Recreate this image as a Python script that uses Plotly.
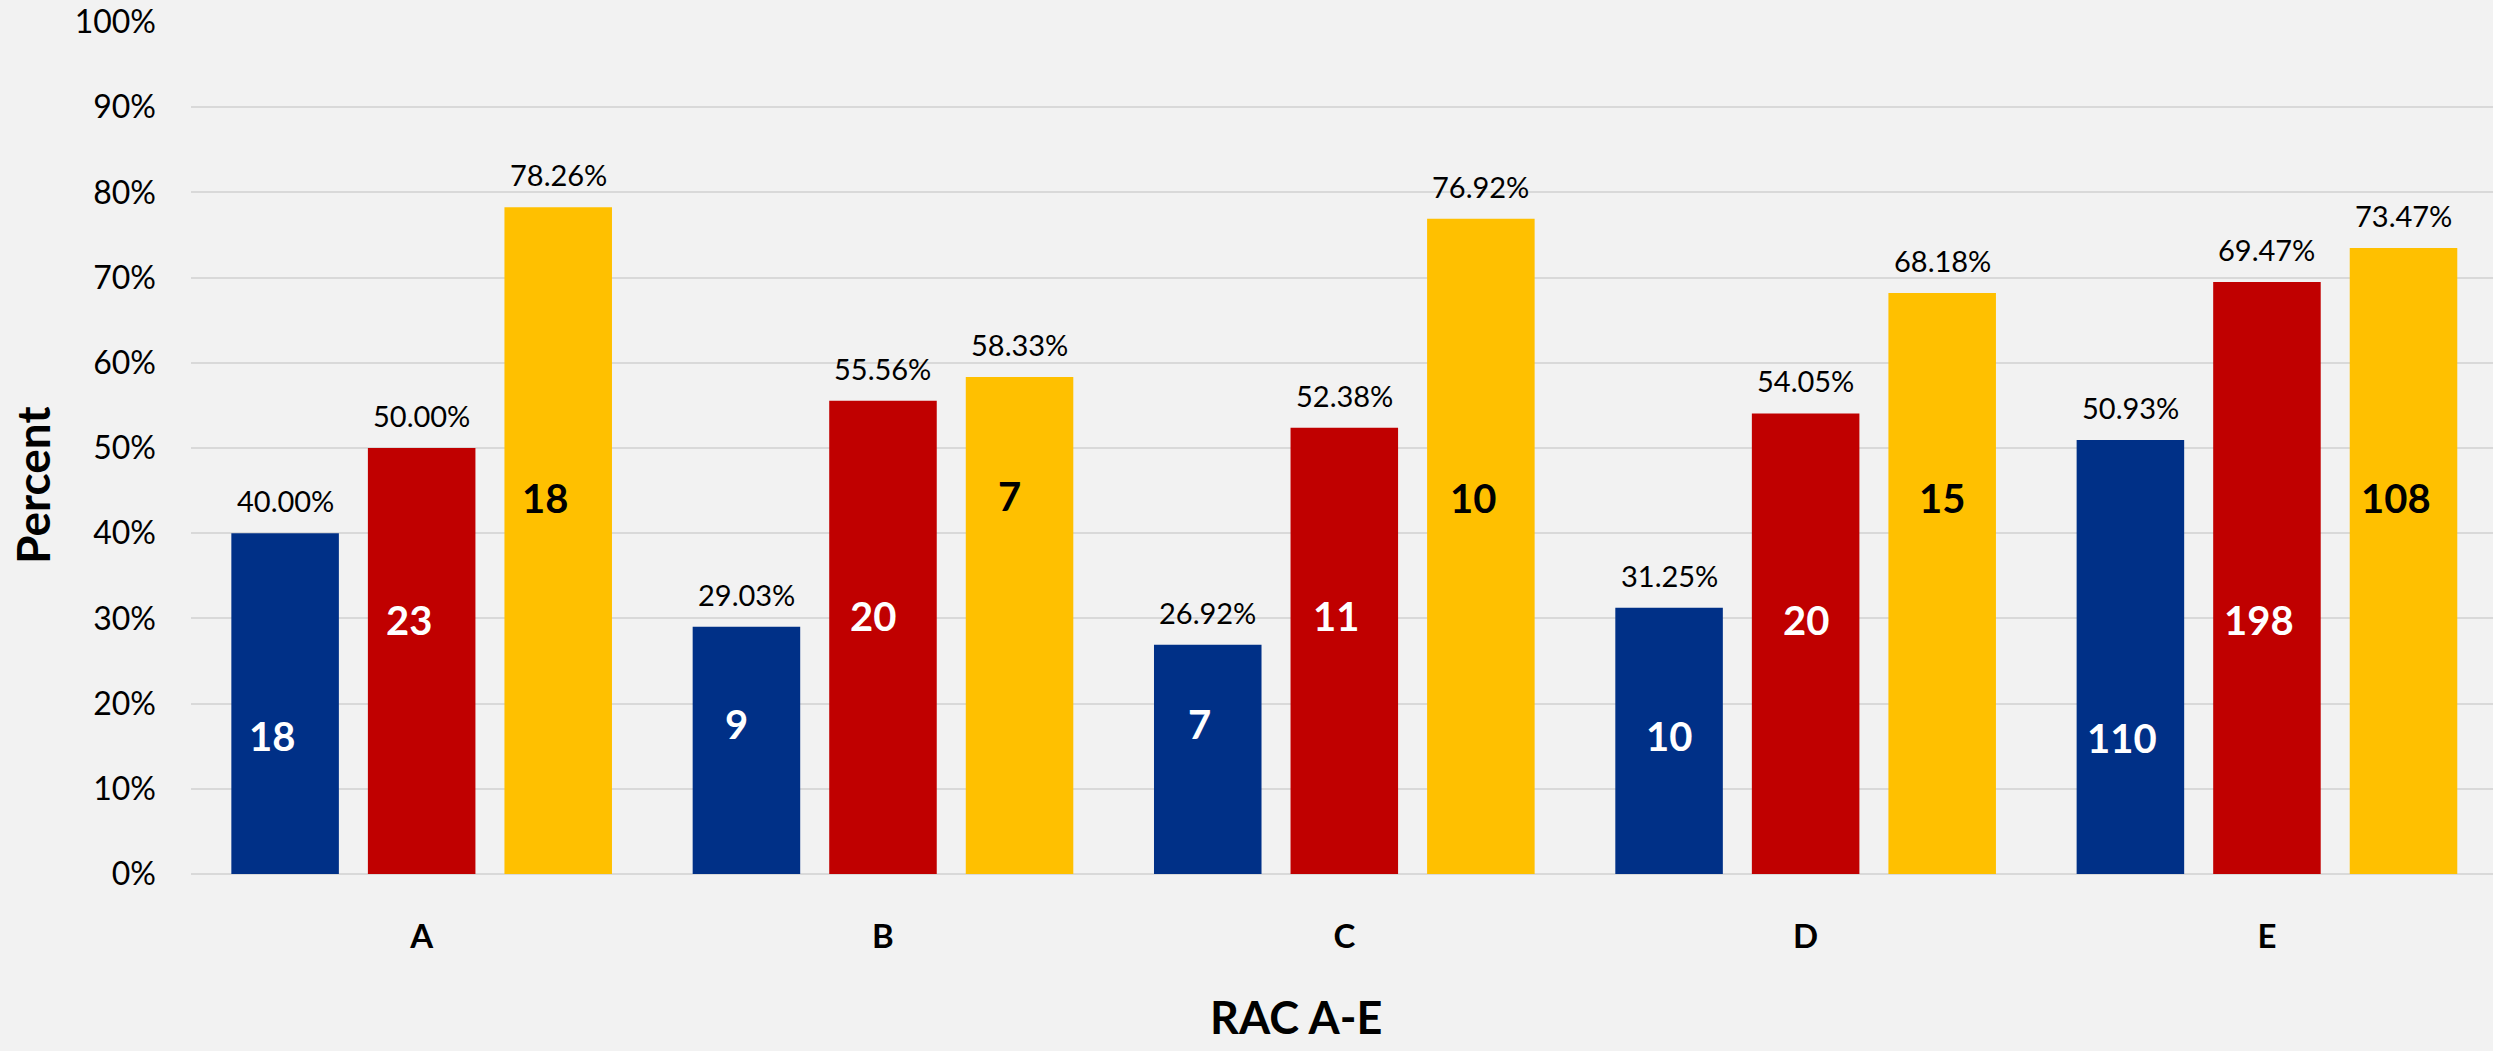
import plotly.graph_objects as go

categories = ["A", "B", "C", "D", "E"]
series_names = ["Series 1", "Series 2", "Series 3"]
pct_blue = [40.00, 29.03, 26.92, 31.25, 50.93]
pct_red = [50.00, 55.56, 52.38, 54.05, 69.47]
pct_yellow = [78.26, 58.33, 76.92, 68.18, 73.47]
cnt_blue = [18, 9, 7, 10, 110]
cnt_red = [23, 20, 11, 20, 198]
cnt_yellow = [18, 7, 10, 15, 108]
y_ticks = [0, 10, 20, 30, 40, 50, 60, 70, 80, 90, 100]

colors = ["#003087", "#C00000", "#FFC000"]
count_font_colors = ["white", "white", "black"]
# label heights (in axis units) for the counts drawn inside bars
count_label_y = [[16.2, 17.6, 17.6, 16.2, 16.0], [29.8, 30.3, 30.3, 29.8, 29.8], [44.1, 44.4, 44.1, 44.1, 44.1]]
count_xshift = [-13, -10, -8, 0, -8]

FONT = "Lato, Carlito, Calibri, sans-serif"
pcts = [pct_blue, pct_red, pct_yellow]
cnts = [cnt_blue, cnt_red, cnt_yellow]

fig = go.Figure()
for j in range(3):
    fig.add_trace(go.Bar(
        x=categories, y=pcts[j], name=series_names[j],
        marker=dict(color=colors[j], line=dict(width=0)),
        showlegend=False, hoverinfo="skip",
    ))

bargap = 0.112
bargroupgap = 0.2125
slot = (1 - bargap) / 3
annotations = []
for j in range(3):
    for i, c in enumerate(categories):
        xpos = i + (j - 1) * slot
        annotations.append(dict(
            x=xpos, y=pcts[j][i], xref="x", yref="y",
            text=f"{pcts[j][i]:.2f}%", showarrow=False,
            yanchor="bottom", yshift=13,
            font=dict(family=FONT, size=29, color="black"),
        ))
        annotations.append(dict(
            x=xpos, y=count_label_y[j][i], xref="x", yref="y",
            text=f"<b>{cnts[j][i]}</b>", showarrow=False,
            yanchor="middle", xshift=count_xshift[i],
            font=dict(family=FONT, size=40, color=count_font_colors[j]),
        ))

annotations.append(dict(
    x=(1296 - 191) / 2302, y=(874 - 1017) / 852, xref="paper", yref="paper",
    text="<b>RAC A-E</b>", showarrow=False, xanchor="center", yanchor="middle",
    font=dict(family=FONT, size=45, color="black"),
))
annotations.append(dict(
    x=(32 - 191) / 2302, y=(874 - 485) / 852, xref="paper", yref="paper",
    text="<b>Percent</b>", showarrow=False, xanchor="center", yanchor="middle",
    textangle=-90, font=dict(family=FONT, size=46, color="black"),
))

fig.update_layout(
    width=2493, height=1051,
    margin=dict(l=191, r=0, t=22, b=177),
    paper_bgcolor="#F2F2F2", plot_bgcolor="#F2F2F2",
    barmode="group", bargap=bargap, bargroupgap=bargroupgap,
    annotations=annotations,
    font=dict(family=FONT, color="black"),
)
fig.update_xaxes(
    range=[-0.5, 4.49], showgrid=False, zeroline=False, showline=False,
    tickmode="array", tickvals=categories, ticktext=[f"<b>{c}</b>" for c in categories],
    ticks="", tickfont=dict(family=FONT, size=33, color="black"),
    ticklabelstandoff=40,
)
fig.update_yaxes(
    range=[0, 100], tickvals=y_ticks, ticktext=[f"{v}%" for v in y_ticks],
    showgrid=True, gridcolor="#D9D9D9", gridwidth=2,
    zeroline=True, zerolinecolor="#D9D9D9", zerolinewidth=2,
    showline=False, ticks="", ticklabelstandoff=34,
    tickfont=dict(family=FONT, size=32, color="black"),
)

fig.write_html(
    "out.html",
    config={"displayModeBar": False},
    post_script="document.body.style.margin='0';document.body.style.background='#F2F2F2';document.body.style.overflow='hidden';",
)
